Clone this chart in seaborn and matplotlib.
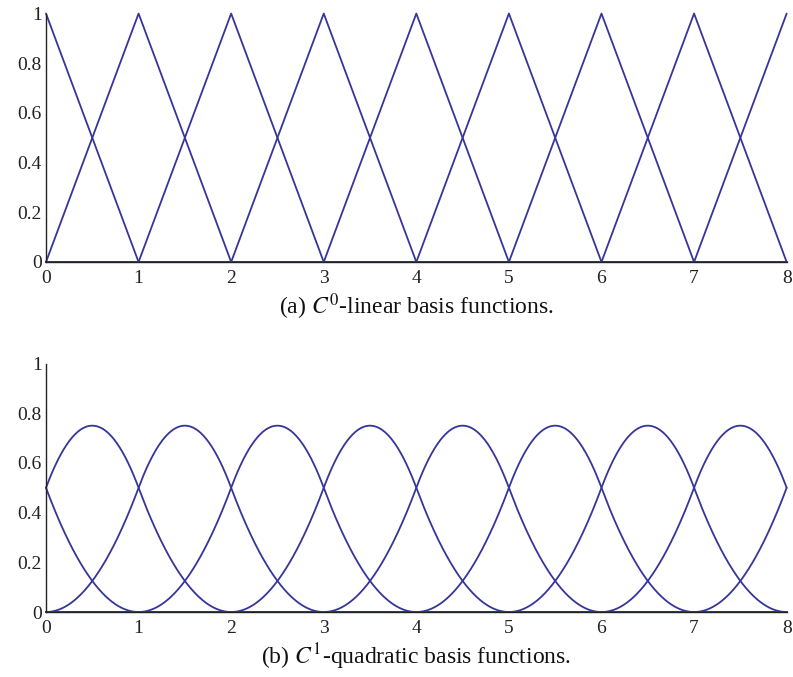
"""
plot.py — C0-linear and C1-quadratic B-spline basis functions on [0, 8]
"""

import matplotlib
matplotlib.use("Agg")
import matplotlib.pyplot as plt
import numpy as np
import pandas as pd
import seaborn as sns

# knot vectors (uniform, extended past [0, 8] so the end functions are cut off)
LINEAR_KNOTS    = [-1, 0, 1, 2, 3, 4, 5, 6, 7, 8, 9]
QUADRATIC_KNOTS = [-2, -1, 0, 1, 2, 3, 4, 5, 6, 7, 8, 9, 10]
X_RANGE  = [0, 8]
X_TICKS  = [0, 1, 2, 3, 4, 5, 6, 7, 8]
Y_TICKS  = [0, 0.2, 0.4, 0.6, 0.8, 1]
Y_LABELS = ["0", "0.2", "0.4", "0.6", "0.8", "1"]
CAPTIONS = ["(a) $C^0$-linear basis functions.",
            "(b) $C^1$-quadratic basis functions."]

LINE_COLOR = "#35359a"
N_SAMPLES  = 801


def bspline_basis(knots, degree, x):
    """Cox–de Boor recursion, returns array (n_funcs, len(x))."""
    t = np.asarray(knots, dtype=float)
    B = np.array([((x >= t[i]) & (x < t[i + 1])).astype(float)
                  for i in range(len(t) - 1)])
    for p in range(1, degree + 1):
        nb = np.zeros((len(t) - 1 - p, len(x)))
        for i in range(len(t) - 1 - p):
            left  = (x - t[i]) / (t[i + p] - t[i]) * B[i]
            right = (t[i + p + 1] - x) / (t[i + p + 1] - t[i + 1]) * B[i + 1]
            nb[i] = left + right
        B = nb
    return B


def basis_frame(knots, degree):
    # stop a hair short of 8 so the half-open spans still cover the end point
    x = np.linspace(X_RANGE[0], X_RANGE[1] - 1e-9, N_SAMPLES)
    B = bspline_basis(knots, degree, x)
    rows = [pd.DataFrame({"x": x, "y": b, "basis": i}) for i, b in enumerate(B)]
    return pd.concat(rows, ignore_index=True)


sns.set_style("white")
plt.rcParams["font.family"] = ["Liberation Serif", "DejaVu Serif"]
plt.rcParams["mathtext.fontset"] = "stix"

fig = plt.figure(figsize=(7.93, 6.77), dpi=100)
ax_a = fig.add_axes([0.058, 0.613, 0.934, 0.367])
ax_b = fig.add_axes([0.058, 0.096, 0.934, 0.367])

for ax, (knots, deg), cap in zip(
        [ax_a, ax_b],
        [(LINEAR_KNOTS, 1), (QUADRATIC_KNOTS, 2)],
        CAPTIONS):
    df = basis_frame(knots, deg)
    sns.lineplot(data=df, x="x", y="y", units="basis", estimator=None,
                 color=LINE_COLOR, lw=1.3, ax=ax, legend=False)
    ax.set_xlim(X_RANGE)
    ax.set_ylim(0, 1)
    ax.set_xticks(X_TICKS)
    ax.set_xticklabels([str(v) for v in X_TICKS])
    ax.set_yticks(Y_TICKS)
    ax.set_yticklabels(Y_LABELS)
    ax.tick_params(direction="in", length=4, width=0.8, labelsize=14,
                   colors="#222222")
    ax.tick_params(axis="x", pad=6)
    ax.tick_params(axis="y", pad=3)
    ax.set_xlabel(cap, fontsize=17, labelpad=3, color="#111111")
    ax.set_ylabel("")
    sns.despine(ax=ax)
    for s in ["left", "bottom"]:
        ax.spines[s].set_color("#222222")
        ax.spines[s].set_linewidth(1.0)
    for line in ax.get_lines():
        line.set_clip_on(False)

fig.savefig("out.png", dpi=100)
plt.close(fig)
